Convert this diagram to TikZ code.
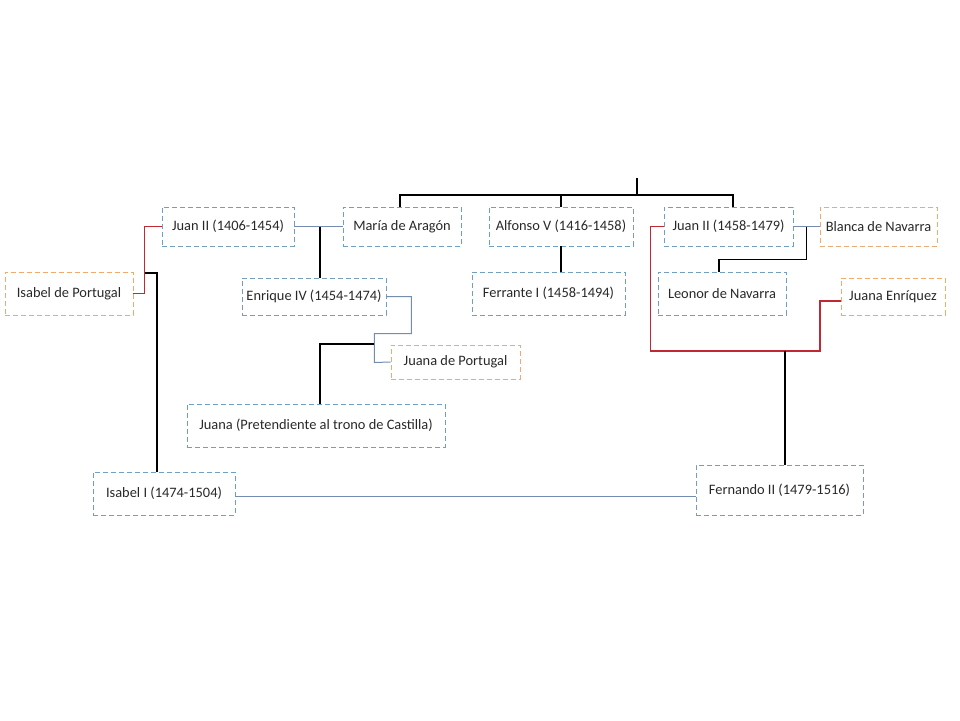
\documentclass[tikz,border=0pt]{standalone}
\usepackage{fontspec}
\setmainfont{Carlito}
\usetikzlibrary{calc}
\definecolor{boxblue}{RGB}{110,160,196}
\definecolor{boxorange}{RGB}{240,170,110}
\definecolor{wedblue}{RGB}{115,140,175}
\definecolor{wedred}{RGB}{192,40,50}
\definecolor{ink}{RGB}{40,40,40}
\tikzset{
  person/.style={draw=boxblue, line width=0.9pt, dash pattern=on 5pt off 3pt,
    inner sep=0pt, text=ink, font=\fontsize{14.4}{16}\selectfont},
  spouse/.style={person, draw=boxorange},
  wed/.style={draw=wedblue, line width=1pt},
  wedb/.style={draw=wedred, line width=1.4pt},
  kid/.style={draw=black, line width=1.3pt},
}
\begin{document}
\begin{tikzpicture}[x=1pt,y=-1pt]
\useasboundingbox (0,0) rectangle (960,720);

% first row
\node[person, minimum width=132, minimum height=39] (juanA) at (228,226.5) {Juan II (1406-1454)};
\node[person, minimum width=118, minimum height=39] (maria) at (402,226.5) {María de Aragón};
\node[person, minimum width=144, minimum height=39] (alfonso) at (561,226.5) {Alfonso V (1416-1458)};
\node[person, minimum width=129, minimum height=39] (juanB) at (728.5,226.5) {Juan II (1458-1479)};
\node[spouse, minimum width=117, minimum height=39] (blanca) at (878.5,226.5) {Blanca de Navarra};

% second row
\node[spouse, minimum width=128, minimum height=43] (isabelP) at (69,293.5) {Isabel de Portugal};
\node[person, minimum width=144, minimum height=37] (enrique) at (314,296.5) {Enrique IV (1454-1474)};
\node[person, minimum width=153, minimum height=43] (ferrante) at (548.5,293.5) {Ferrante I (1458-1494)};
\node[person, minimum width=128, minimum height=43] (leonor) at (722,293.5) {Leonor de Navarra};
\node[spouse, minimum width=104, minimum height=37] (juanaE) at (893,296.5) {Juana Enríquez};

% lower rows
\node[spouse, minimum width=129, minimum height=34] (juanaP) at (455.5,362) {Juana de Portugal};
\node[person, minimum width=258, minimum height=43] (juana) at (316,425.5) {Juana (Pretendiente al trono de Castilla)};
\node[person, minimum width=142, minimum height=43] (isabel) at (164,493.5) {Isabel I (1474-1504)};
\node[person, minimum width=167, minimum height=50] (fernando) at (779.5,490) {Fernando II (1479-1516)};

% top of the tree
\coordinate (top) at (637,178);
\coordinate (bar) at (637,195);
\draw[kid] (top) -- (bar);
\draw[kid] ([xshift=-2pt]maria.north) |- (bar) -| ([xshift=4.5pt]juanB.north);
\draw[kid] (alfonso.north) -- (alfonso.north |- bar);
\draw[kid] (alfonso.south) -- (alfonso.south |- ferrante.north);

% Juan II and his wives
\draw[wed] (juanA) -- (maria);
\coordinate (m1) at ($(juanA.east)!.5!(maria.west)$);
\draw[kid] ([xshift=1.5pt]m1) -- ([xshift=1.5pt]m1 |- enrique.north);
\draw[wedb] (juanA.west) -- ++(-17,0) |- (isabelP.east);
\coordinate (m2) at (145,273);
\draw[kid] (m2) -| ([xshift=-7pt]isabel.north);

% Enrique IV
\draw[wed] (enrique.east) -| ++(25,37) -| ++(-37,29) -- (juanaP.west);
\coordinate (m3) at (374,344);
\draw[kid] (m3) -| ([xshift=4pt]juana.north);

% Juan II of Aragon and his wives
\draw[wed] (juanB) -- (blanca);
\coordinate (m4) at ($(juanB.east)!.5!(blanca.west)$);
\draw[kid] (m4) -- ++(0,33) -| ([xshift=-3pt]leonor.north);
\draw[wedb] (juanB.west) -- ++(-13,0) |- (820,351) |- ([yshift=-4.5pt]juanaE.west);
\coordinate (m5) at (785,351);
\draw[kid] (m5) -- (m5 |- fernando.north);

% the Catholic Monarchs
\draw[wed] ([yshift=-2.5pt]isabel.east) -- ([yshift=-2.5pt]isabel.east -| fernando.west);
\end{tikzpicture}
\end{document}
